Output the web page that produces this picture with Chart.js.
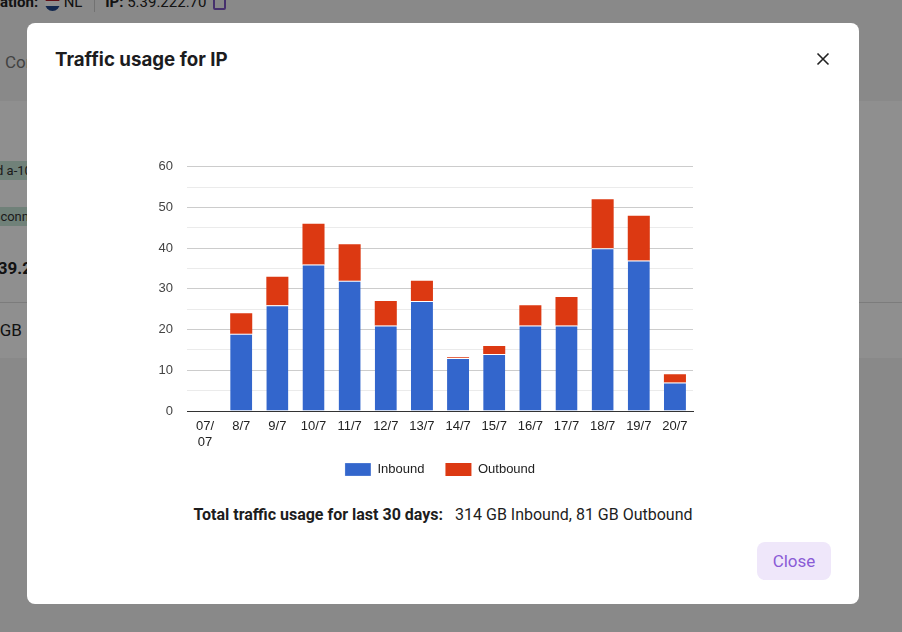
<!DOCTYPE html>
<html>
<head>
<meta charset="utf-8">
<script src="https://cdn.jsdelivr.net/npm/chart.js@4.4.0/dist/chart.umd.min.js"></script>
<style>
  html, body { margin:0; padding:0; width:902px; height:632px; overflow:hidden; background:#f5f5f5; font-family: Roboto, "Noto Sans", sans-serif; }
  .bg { position:absolute; left:0; top:0; width:902px; height:632px; }
  .topbar { position:absolute; top:-7px; left:0; font-size:15px; color:#222; white-space:nowrap; }
  .card { position:absolute; left:0; top:101px; width:902px; height:257px; background:#fff; }
  .overlay { position:absolute; left:0; top:0; width:902px; height:632px; background:rgba(0,0,0,0.44); }
  .modal { position:absolute; left:27px; top:23px; width:832px; height:581px; background:#fff; border-radius:8px; }
  .title { position:absolute; left:28px; top:25px; font-family: Inter, Roboto, sans-serif; font-weight:700; font-size:18.7px; color:#1c1c1e; }
  .x { position:absolute; left:789px; top:29px; width:14px; height:14px; }
  .footer { position:absolute; left:0; width:832px; top:482px; text-align:center; font-size:16px; color:#1d1d1d; }
  .footer b { font-weight:700; margin-right:8px; }
  .btn { position:absolute; left:730px; top:519px; width:74px; height:38px; border-radius:8px; background:#efe7fa; color:#8a5bd6; font-size:17px; line-height:38px; text-align:center; }
  #wrap { position:absolute; left:113px; top:122px; width:600px; height:341px; }
</style>
</head>
<body>
<div class="bg">
  <div class="topbar"><b>ation:</b> <span style="display:inline-block;width:15px;height:15px;border-radius:50%;margin-left:3px;background:linear-gradient(#ae1c28 33%,#fff 33%,#fff 66%,#21468b 66%);vertical-align:middle"></span> NL <span style="display:inline-block;width:1px;height:18px;background:#ccc;margin:0 10px 0 8px;vertical-align:middle"></span><b>IP:</b> 5.39.222.70 <span style="display:inline-block;width:9px;height:9px;border:2px solid #7e57c2;border-radius:2px;vertical-align:middle;margin-left:3px"></span></div>
  <div style="position:absolute;left:5px;top:52px;font-size:17px;color:#777">Connections</div>
  <div class="card">
    <div style="position:absolute;left:-32px;top:60px;background:#c8e6d8;font-size:13px;padding:2px 6px;color:#333">Used a-10</div>
    <div style="position:absolute;left:-24px;top:106px;background:#c8e6d8;font-size:13px;padding:2px 6px;color:#333">Disconnected</div>
    <div style="position:absolute;left:-12px;top:157px;font-size:17px;font-weight:700;color:#222">139.22</div>
    <div style="position:absolute;left:0;top:201px;width:902px;height:1px;background:#ddd"></div>
    <div style="position:absolute;left:-14px;top:219px;font-size:17px;color:#222">1 GB</div>
  </div>
  <div class="overlay"></div>
</div>
<div class="modal">
  <div class="title">Traffic usage for IP</div>
  <svg class="x" viewBox="0 0 14 14"><path d="M1.5 1.5 L12.5 12.5 M12.5 1.5 L1.5 12.5" stroke="#222" stroke-width="1.6"/></svg>
  <div id="wrap"><canvas id="c"></canvas></div>
  <div class="footer"><b>Total traffic usage for last 30 days:</b> 314 GB Inbound, 81 GB Outbound</div>
  <div class="btn">Close</div>
</div>
<script>
const categories = ["07/07","8/7","9/7","10/7","11/7","12/7","13/7","14/7","15/7","16/7","17/7","18/7","19/7","20/7"];
const inbound  = [0, 19, 26, 36, 32, 21, 27, 13, 14, 21, 21, 40, 37, 7];
const outbound = [0, 5, 7, 10, 9, 6, 5, 0.2, 2, 5, 7, 12, 11, 2];
const yTicks = [0, 10, 20, 30, 40, 50, 60];

const FONT = "'Liberation Sans', Arial, sans-serif";
// let the two-line x labels draw beyond the axis box
const noLabelClip = {
  id: 'noLabelClip',
  beforeDraw(chart) { if (chart.scales.x) chart.scales.x._computeLabelArea = function() { return undefined; }; }
};
const chart = new Chart(document.getElementById('c'), {
  type: 'bar',
  plugins: [noLabelClip],
  data: {
    labels: categories,
    datasets: [
      { label: 'Inbound', data: inbound, backgroundColor: '#3366cc', borderColor: '#ffffff', borderWidth: {top:1, left:0, right:0, bottom:0}, borderSkipped: 'bottom', categoryPercentage: 0.61, barPercentage: 1 },
      { label: 'Outbound', data: outbound, backgroundColor: '#dc3912', borderColor: '#ffffff', borderWidth: 0, categoryPercentage: 0.61, barPercentage: 1 }
    ]
  },
  options: {
    responsive: true, maintainAspectRatio: false, animation: false,
    layout: { padding: { left: 0, right: 0, top: 14, bottom: 0 } },
    plugins: {
      tooltip: { enabled: false },
      legend: {
        position: 'bottom',
        labels: { boxWidth: 26, boxHeight: 13, padding: 21, color: '#222', font: { family: FONT, size: 13 } }
      }
    },
    scales: {
      x: {
        stacked: true,
        grid: { display: false, drawTicks: false },
        border: { color: '#333', width: 1 },
        ticks: {
          color: '#222', padding: 8, maxRotation: 0, autoSkip: false,
          font: { family: FONT, size: 13 }, lineHeight: 1.2,
          callback: function(v, i) { const l = categories[i]; return l.length > 4 ? [l.slice(0,3), l.slice(3)] : l; }
        },
        afterFit: function(s) { s.height = 31; }
      },
      y: {
        stacked: true, min: 0, max: 60,
        border: { display: false },
        grid: { drawTicks: false, color: function(ctx) { const v = ctx.tick.value; return v === 0 ? 'rgba(0,0,0,0)' : (yTicks.includes(v) ? '#cccccc' : '#ebebeb'); } },
        ticks: {
          stepSize: 5, padding: 14, color: '#444', font: { family: FONT, size: 13 },
          callback: function(v) { return yTicks.includes(v) ? String(v) : ''; }
        },
        afterFit: function(s) { s.width = 47; }
      },
      yRight: {
        position: 'right', display: true, min: 0, max: 1,
        grid: { display: false, drawTicks: false },
        border: { display: false },
        ticks: { display: false },
        afterFit: function(s) { s.width = 47; }
      }
    }
  }
});
</script>
</body>
</html>
